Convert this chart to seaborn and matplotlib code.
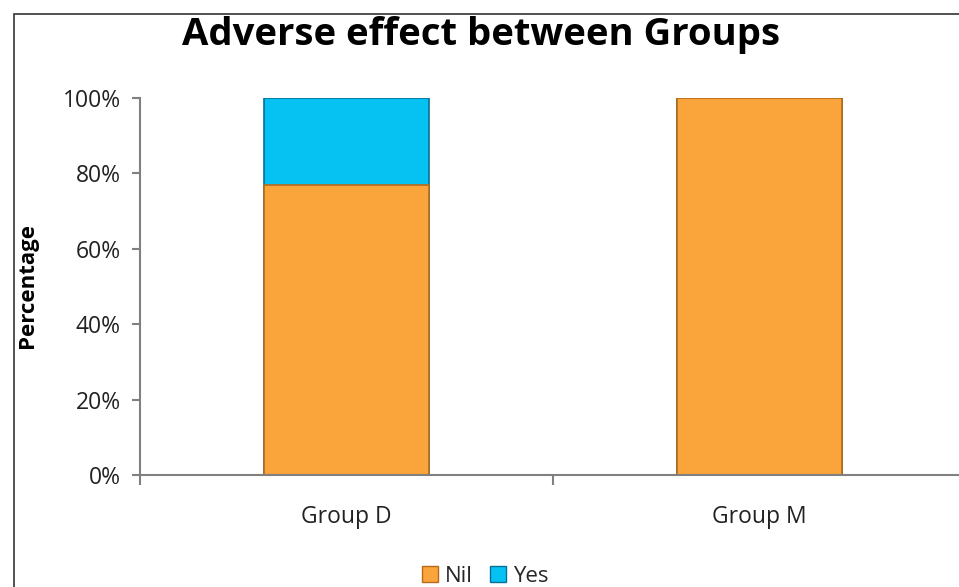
import pandas as pd
import numpy as np
import matplotlib
matplotlib.use('Agg')
import matplotlib.pyplot as plt
import seaborn as sns
from matplotlib.patches import Rectangle
from matplotlib.ticker import PercentFormatter

groups = ['Group D', 'Group M']
nil = [77, 100]
yes = [23, 0]

df = pd.DataFrame({'group': groups, 'Nil': nil, 'Yes': yes})
df['total'] = df['Nil'] + df['Yes']

sns.set_style('white')
plt.rcParams['font.family'] = ['Open Sans', 'DejaVu Sans']

fig = plt.figure(figsize=(9.59, 5.87), dpi=100)
ax = fig.add_axes([140 / 959, 1 - 475 / 587, 826 / 959, 377 / 587])

orange = '#FAA43C'
blue = '#05C2F2'
sns.barplot(data=df, x='group', y='total', color=blue, width=0.4,
            edgecolor='#0A6F95', linewidth=1.2, saturation=1, ax=ax)
sns.barplot(data=df, x='group', y='Nil', color=orange, width=0.4,
            edgecolor='#B86A1A', linewidth=1.2, saturation=1, ax=ax)

ax.set_ylim(0, 100)
ax.set_xlim(-0.5, 1.5)
ax.set_yticks(range(0, 101, 20))
ax.yaxis.set_major_formatter(PercentFormatter(decimals=0))
ax.set_xticks([0, 1])
ax.set_xticklabels(groups)
ax.set_xlabel('')
ax.set_ylabel('')
ax.tick_params(axis='y', labelsize=16.5, left=True, length=6,
               width=1.5, color='#808080', pad=8, direction='out')
ax.tick_params(axis='x', labelsize=16.5, bottom=False, pad=18)
for t in ax.get_yticklabels() + ax.get_xticklabels():
    t.set_color('#222222')
# ticks between categories
ax.set_xticks([-0.5, 0.5, 1.5], minor=True)
ax.tick_params(axis='x', which='minor', bottom=True, length=7, width=1.5,
               color='#808080', direction='out')
for s in ['top', 'right']:
    ax.spines[s].set_visible(False)
for s in ['left', 'bottom']:
    ax.spines[s].set_color('#808080')
    ax.spines[s].set_linewidth(1.5)

fig.text(0.502, 1 - 35 / 587, 'Adverse effect between Groups', ha='center', va='center',
         fontsize=27.5, fontweight='bold', color='black')
fig.text(28 / 959, 1 - 285 / 587, 'Percentage', rotation=90, ha='center', va='center',
         fontsize=16, fontweight='bold', color='black')

# chart border
fig.patches.append(Rectangle((14 / 959, -0.1), 1.1, 1 - 14 / 587 + 0.1,
                             transform=fig.transFigure, fill=False,
                             edgecolor='#333333', linewidth=1.2))

handles = [Rectangle((0, 0), 1, 1, facecolor=orange, edgecolor='#B86A1A'),
           Rectangle((0, 0), 1, 1, facecolor=blue, edgecolor='#0A6F95')]
fig.legend(handles, ['Nil', 'Yes'], loc='center', bbox_to_anchor=(0.506, 1 - 576 / 587),
           ncol=2, frameon=False, fontsize=16, handlelength=0.7, handleheight=0.7,
           handletextpad=0.3, columnspacing=0.8)

fig.savefig('out.png', dpi=100)
